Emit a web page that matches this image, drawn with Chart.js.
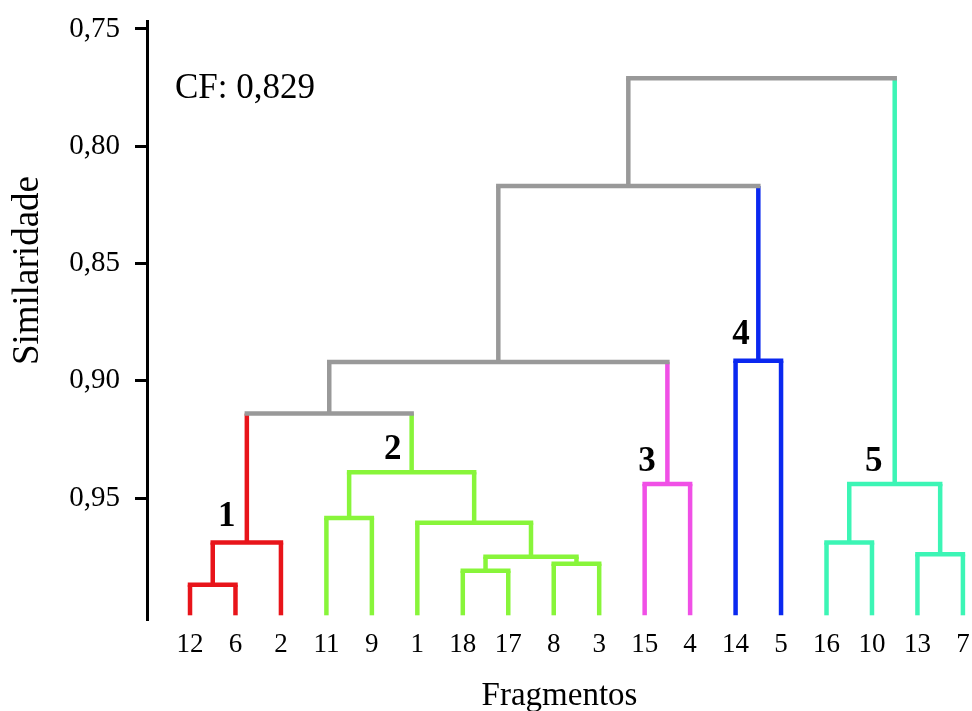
<!DOCTYPE html>
<html>
<head>
<meta charset="utf-8">
<title>Dendrograma - Similaridade</title>
<script src="https://cdn.jsdelivr.net/npm/chart.js@4.4.1/dist/chart.umd.min.js"></script>
<style>
  html, body { margin: 0; padding: 0; background: #fff; }
  #wrap { width: 972px; height: 711px; }
</style>
</head>
<body>
<div id="wrap"><canvas id="dendro" width="972" height="711"></canvas></div>
<script>
const fragmentos = ['12', '6', '2', '11', '9', '1', '18', '17', '8', '3', '15', '4', '14', '5', '16', '10', '13', '7'];
const folhaSim = 1.0;
// cada fusão k cria o nó 18 + k (as folhas são os nós 0..17)
const fusaoEsq = [0, 18, 3, 6, 8, 21, 5, 20, 10, 12, 14, 16, 28, 19, 31, 32, 33];
const fusaoDir = [1, 2, 4, 7, 9, 22, 23, 24, 11, 13, 15, 17, 29, 25, 26, 27, 30];
const fusaoSim = [0.987, 0.969, 0.9585, 0.981, 0.978, 0.975, 0.9605, 0.939, 0.944, 0.8915, 0.969, 0.974, 0.944, 0.914, 0.892, 0.817, 0.771];
const fusaoGrupo = [1, 1, 2, 2, 2, 2, 2, 2, 3, 4, 5, 5, 5, 0, 0, 0, 0];
const grupos = ['1', '2', '3', '4', '5'];
const simTicks = [0.75, 0.80, 0.85, 0.90, 0.95];
const CF = '0,829';

// cores: 0 = ligação acima dos grupos
const cores = ['#999999', '#e8141a', '#88f53a', '#f050e6', '#0a28f0', '#3cf5b5'];
const serif = '"Liberation Serif", "Times New Roman", serif';

// --- 1. POSIÇÃO DOS NÓS ---
const nodeX = fragmentos.map((_, i) => i);
const nodeSim = fragmentos.map(() => folhaSim);
const pai = {};
fusaoEsq.forEach((e, k) => {
    const d = fusaoDir[k];
    nodeX.push((nodeX[e] + nodeX[d]) / 2);
    nodeSim.push(fusaoSim[k]);
    pai[e] = k;
    pai[d] = k;
});
const nodeCor = nodeX.map((_, i) =>
    i < fragmentos.length ? cores[fusaoGrupo[pai[i]]] : cores[fusaoGrupo[i - fragmentos.length]]);

// --- 2. SEGMENTOS ---
const seg = (pts, cor, cap) => ({
    data: pts, showLine: true, borderColor: cor, borderWidth: 4.5,
    borderCapStyle: cap, pointRadius: 0, fill: false, tension: 0
});

const horizontais = fusaoEsq.map((e, k) => seg([
    { x: nodeX[e], y: fusaoSim[k] },
    { x: nodeX[fusaoDir[k]], y: fusaoSim[k] }
], cores[fusaoGrupo[k]], 'square'));

const verticais = nodeX.filter((_, i) => pai[i] !== undefined).map((x, i) => seg([
    { x: x, y: nodeSim[i] },
    { x: x, y: fusaoSim[pai[i]] }
], nodeCor[i], 'butt'));

// --- 3. TEXTOS EXTRA ---
const rotulos = {
    id: 'rotulos',
    afterDraw(chart, args, opts) {
        const { ctx, chartArea, scales: { x, y } } = chart;
        ctx.save();
        ctx.fillStyle = '#000';

        ctx.font = '35px ' + serif;
        ctx.textAlign = 'left';
        ctx.textBaseline = 'alphabetic';
        ctx.fillText('CF: ' + CF, chartArea.left + 28, chartArea.top + 77);

        ctx.font = 'bold 35px ' + serif;
        ctx.textAlign = 'center';
        ctx.textBaseline = 'middle';
        grupos.forEach((g, i) => {
            const p = opts.anchors[i];
            ctx.fillText(g, x.getPixelForValue(p[0]), y.getPixelForValue(p[1]));
        });

        ctx.translate(28, y.getPixelForValue(0.853));
        ctx.rotate(-Math.PI / 2);
        ctx.font = '37px ' + serif;
        ctx.fillText('Similaridade', 0, 0);
        ctx.restore();
    }
};

new Chart(document.getElementById('dendro'), {
    type: 'scatter',
    data: { datasets: horizontais.concat(verticais) },
    options: {
        responsive: false,
        animation: false,
        layout: { padding: { top: 21, right: 0, bottom: 0, left: 0 } },
        plugins: {
            legend: { display: false },
            tooltip: { enabled: false },
            rotulos: { anchors: [[0.81, 0.958], [4.46, 0.9295], [10.05, 0.9345], [12.12, 0.8805], [15.04, 0.9345]] }
        },
        scales: {
            x: {
                type: 'linear',
                min: -0.946,
                max: 17.2,
                afterBuildTicks: s => { s.ticks = fragmentos.map((_, i) => ({ value: i })); },
                afterFit: s => { s.height = 91; },
                grid: { display: false, drawTicks: false },
                border: { display: false },
                ticks: {
                    autoSkip: false, maxRotation: 0, minRotation: 0, padding: 0,
                    color: '#000', font: { family: serif, size: 27, lineHeight: 1.85 },
                    callback: v => fragmentos[v]
                },
                title: {
                    display: true, text: 'Fragmentos', color: '#000',
                    font: { family: serif, size: 33, lineHeight: 0.9 },
                    padding: { top: 0, bottom: 0 }
                }
            },
            y: {
                type: 'linear',
                reverse: true,
                min: 0.7466,
                max: 1.002,
                afterBuildTicks: s => { s.ticks = simTicks.map(v => ({ value: v })); },
                afterFit: s => { s.width = 147; },
                grid: { display: true, drawOnChartArea: false, drawTicks: true, tickLength: 12, tickColor: '#000', tickWidth: 3 },
                border: { display: true, color: '#000', width: 3 },
                ticks: {
                    padding: 15, color: '#000', font: { family: serif, size: 29, lineHeight: 0.4 },
                    callback: v => v.toFixed(2).replace('.', ',')
                }
            }
        }
    },
    plugins: [rotulos]
});
</script>
</body>
</html>
